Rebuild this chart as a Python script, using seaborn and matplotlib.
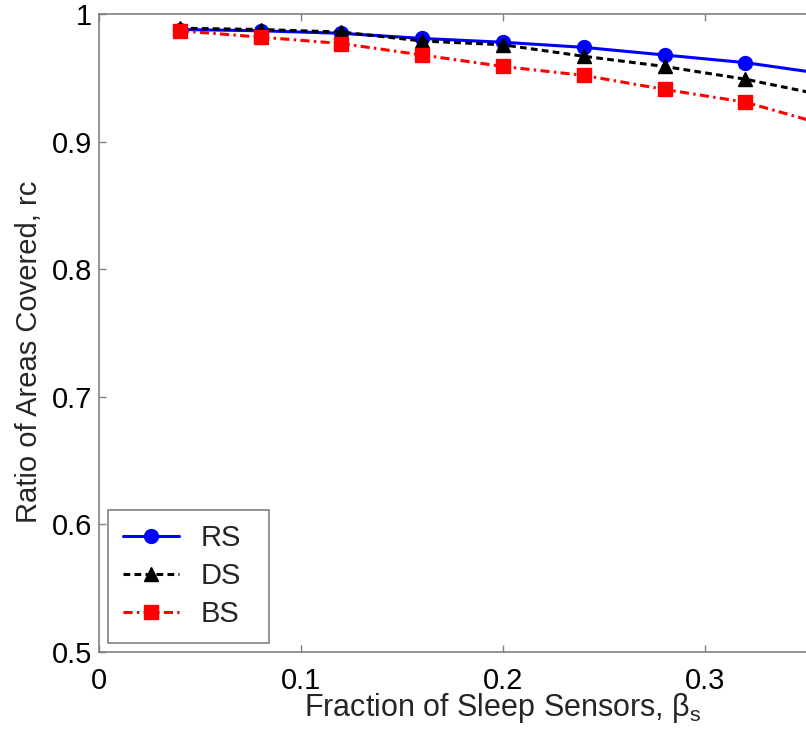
import matplotlib
matplotlib.use("Agg")
import matplotlib.pyplot as plt
import numpy as np
import pandas as pd
import seaborn as sns

# Fraction of sensors put to sleep and the resulting coverage ratio per scheme
sleep_fraction = [0.04, 0.08, 0.12, 0.16, 0.20, 0.24, 0.28, 0.32, 0.36]
rs_ratio = [0.988, 0.987, 0.985, 0.981, 0.978, 0.974, 0.968, 0.962, 0.953]
ds_ratio = [0.989, 0.988, 0.986, 0.979, 0.976, 0.967, 0.959, 0.949, 0.936]
bs_ratio = [0.987, 0.982, 0.977, 0.968, 0.959, 0.952, 0.941, 0.931, 0.913]
schemes = ["RS", "DS", "BS"]

x_ticks = [0.0, 0.1, 0.2, 0.3]
x_tick_labels = ["0", "0.1", "0.2", "0.3"]
y_ticks = [0.5, 0.6, 0.7, 0.8, 0.9, 1.0]
y_tick_labels = ["0.5", "0.6", "0.7", "0.8", "0.9", "1"]

df = pd.DataFrame({
    "beta": sleep_fraction * 3,
    "rc": rs_ratio + ds_ratio + bs_ratio,
    "scheme": [s for s in schemes for _ in sleep_fraction],
})

sns.set_style("ticks")
plt.rcParams["font.family"] = ["Liberation Sans", "DejaVu Sans"]
plt.rcParams["mathtext.fontset"] = "custom"
plt.rcParams["mathtext.rm"] = "Liberation Sans"
plt.rcParams["mathtext.it"] = "Liberation Sans:italic"

W, H = 806, 733
fig = plt.figure(figsize=(W / 100, H / 100), dpi=100)
# axes run from x=0 to 0.4; the right part falls past the canvas edge
ax = fig.add_axes([99 / W, 81.3 / H, 808 / W, 637.5 / H])

styles = {
    "RS": dict(color="#0000ff", marker="o", ls="-", ms=10),
    "DS": dict(color="#000000", marker="^", ls=(0, (2.2, 1.4)), ms=10),
    "BS": dict(color="#ff0000", marker="s", ls=(0, (3.0, 1.4, 0.8, 1.4)), ms=10),
}
for s in schemes:
    st = styles[s]
    sns.lineplot(data=df[df.scheme == s], x="beta", y="rc", ax=ax,
                 color=st["color"], marker=st["marker"], linestyle=st["ls"],
                 markersize=st["ms"], markeredgecolor="auto",
                 markeredgewidth=1.0, linewidth=2.2, label=s)

ax.set_xlim(0, 0.4)
ax.set_ylim(0.5, 1.0)
ax.set_xticks(x_ticks)
ax.set_xticklabels(x_tick_labels)
ax.set_yticks(y_ticks)
ax.set_yticklabels(y_tick_labels)

spine_col = "#808080"
for sp in ax.spines.values():
    sp.set_visible(True)
    sp.set_color(spine_col)
    sp.set_linewidth(1.2)
ax.tick_params(axis="both", direction="in", length=5, width=1.0,
               color=spine_col, labelcolor="black", labelsize=21,
               top=True, right=True)
ax.tick_params(axis="x", pad=11)
ax.tick_params(axis="y", pad=5)

ax.set_xlabel(r"Fraction of Sleep Sensors, $\mathrm{\beta}_\mathrm{s}$",
              fontsize=22, labelpad=-3)
ax.set_ylabel("Ratio of Areas Covered, rc", fontsize=21, labelpad=6, y=0.47)

leg = ax.legend(loc="lower left", fontsize=21, frameon=True, fancybox=False,
                bbox_to_anchor=(9 / 808, 9 / 637.5, 161 / 808, 0.2),
                mode="expand", borderaxespad=0,
                handlelength=1.92, handletextpad=0.75, labelspacing=0.34,
                borderpad=0.5)
leg.get_frame().set_edgecolor(spine_col)
leg.get_frame().set_linewidth(1.2)
leg.get_frame().set_alpha(1)

fig.savefig("out.png", dpi=100)
